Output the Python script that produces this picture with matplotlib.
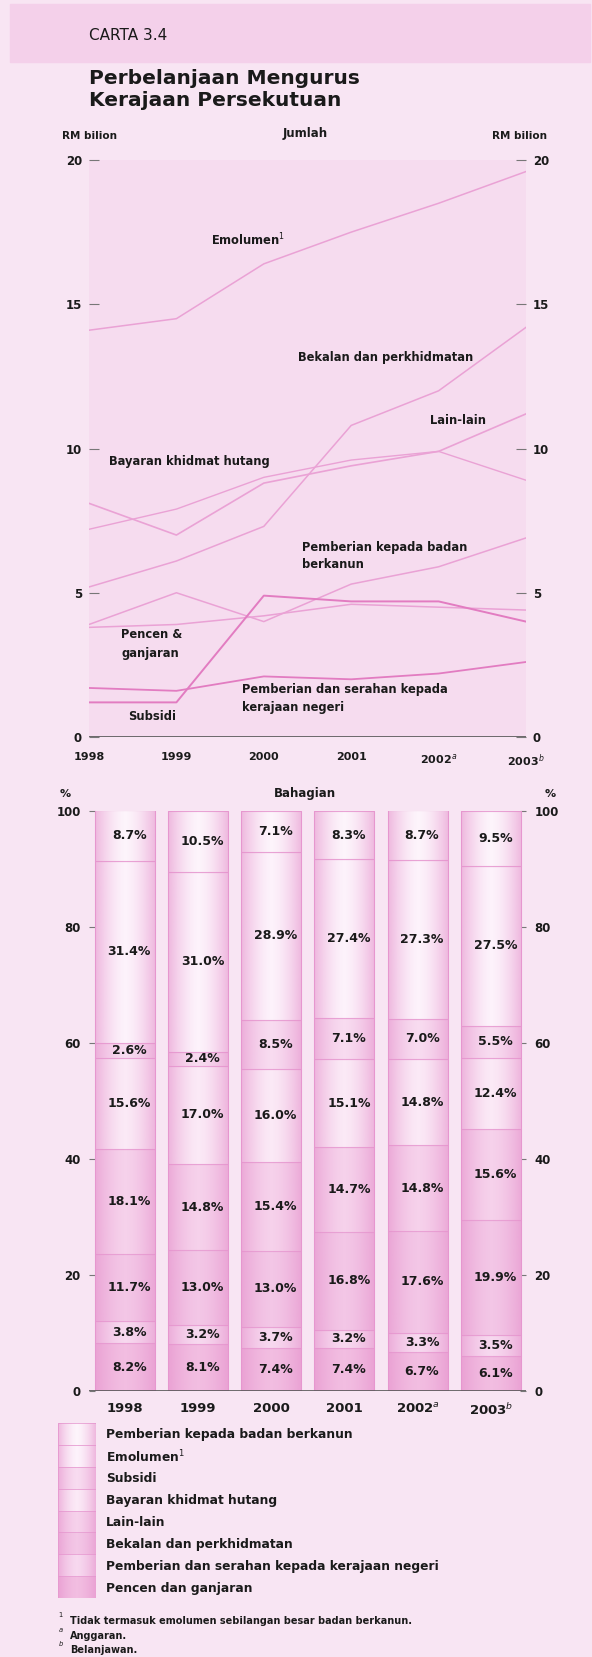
import numpy as np
import matplotlib
matplotlib.use('Agg')
import matplotlib.pyplot as plt
from matplotlib.patches import Rectangle
from matplotlib.colors import to_rgb

plt.rcParams['font.family'] = ['DejaVu Sans']

# ---------------- data ----------------
years = ['1998', '1999', '2000', '2001', '2002$^{a}$', '2003$^{b}$']

# Jumlah (RM bilion)
emolumen = [14.1, 14.5, 16.4, 17.5, 18.5, 19.6]
bekalan = [5.2, 6.1, 7.3, 10.8, 12.0, 14.2]
lain_lain = [8.1, 7.0, 8.8, 9.4, 9.9, 11.2]
bayaran_hutang = [7.2, 7.9, 9.0, 9.6, 9.9, 8.9]
badan_berkanun = [3.9, 5.0, 4.0, 5.3, 5.9, 6.9]
subsidi = [1.2, 1.2, 4.9, 4.7, 4.7, 4.0]
negeri = [1.7, 1.6, 2.1, 2.0, 2.2, 2.6]
pencen = [3.8, 3.9, 4.2, 4.6, 4.5, 4.4]

# Bahagian (%)  bottom -> top
pct_pencen = [8.2, 8.1, 7.4, 7.4, 6.7, 6.1]
pct_negeri = [3.8, 3.2, 3.7, 3.2, 3.3, 3.5]
pct_bekalan = [11.7, 13.0, 13.0, 16.8, 17.6, 19.9]
pct_lain = [18.1, 14.8, 15.4, 14.7, 14.8, 15.6]
pct_hutang = [15.6, 17.0, 16.0, 15.1, 14.8, 12.4]
pct_subsidi = [2.6, 2.4, 8.5, 7.1, 7.0, 5.5]
pct_emolumen = [31.4, 31.0, 28.9, 27.4, 27.3, 27.5]
pct_berkanun = [8.7, 10.5, 7.1, 8.3, 8.7, 9.5]

legend_labels = ['Pemberian kepada badan berkanun', 'Emolumen$^{1}$', 'Subsidi',
                 'Bayaran khidmat hutang', 'Lain-lain', 'Bekalan dan perkhidmatan',
                 'Pemberian dan serahan kepada kerajaan negeri', 'Pencen dan ganjaran']

# ---------------- style ----------------
BG = '#f8e5f3'
AXBG = '#f6dcef'
BAND = '#f4d0ea'
LINE = '#eaa2d5'
LINE2 = '#e27cc1'
EDGE = '#e9a3d5'
TXT = '#1a1a1a'
SEG_COLORS = ['#f2bde1', '#f7d8ef', '#f3c6e6', '#f6d1eb', '#fbe9f6',
              '#f8dbf0', '#fdf2fb', '#fdf4fb']

W, H = 592, 1657
fig = plt.figure(figsize=(W / 100, H / 100), dpi=100)
fig.patch.set_facecolor(BG)


def fx(x):
    return x / W


def fy(y):
    return 1 - y / H


def ftext(x, y, s, **kw):
    kw.setdefault('color', TXT)
    kw.setdefault('va', 'center')
    fig.text(fx(x), fy(y), s, **kw)


fig.patches.append(Rectangle((fx(10), fy(62)), fx(590) - fx(10), fy(4) - fy(62),
                             transform=fig.transFigure, color=BAND, zorder=0))

ftext(89, 35, 'CARTA 3.4', fontsize=11)
ftext(89, 78, 'Perbelanjaan Mengurus', fontsize=14.5, weight='bold')
ftext(89, 100, 'Kerajaan Persekutuan', fontsize=14.5, weight='bold')

ftext(62, 136, 'RM bilion', fontsize=7.5, weight='bold')
ftext(305, 134, 'Jumlah', fontsize=8.5, weight='bold', ha='center')
ftext(547, 136, 'RM bilion', fontsize=7.5, weight='bold', ha='right')

# ---------------- top chart ----------------
ax1 = fig.add_axes([fx(89), fy(737), (526 - 89) / W, (737 - 160) / H])
ax1.set_facecolor(AXBG)
x = np.arange(len(years))
for vals, col, lw in [(emolumen, LINE, 1.1), (bekalan, LINE, 1.1), (lain_lain, LINE, 1.2),
                      (bayaran_hutang, LINE, 1.0), (badan_berkanun, LINE, 1.1),
                      (pencen, LINE, 1.1), (negeri, LINE2, 1.3), (subsidi, LINE2, 1.4)]:
    ax1.plot(x, vals, color=col, lw=lw, zorder=3)
ax1.axhline(0, color='#555555', lw=1.2, zorder=4)
ax1.set_xlim(0, 5)
ax1.set_ylim(0, 20)
for s in ax1.spines.values():
    s.set_visible(False)
ax1.set_yticks([0, 5, 10, 15, 20])
ax1.tick_params(axis='y', direction='in', length=7, width=0.8, color='#777777',
                left=True, right=True, labelleft=True, labelright=True,
                labelsize=8.5, pad=5, labelcolor=TXT)
ax1.set_xticks(x)
ax1.set_xticklabels(years, fontsize=8, weight='bold', color=TXT)
ax1.tick_params(axis='x', length=0, pad=11)
for lab in ax1.get_yticklabels():
    lab.set_fontweight('bold')

ann = dict(fontsize=8.3, weight='bold')
ftext(211, 240, 'Emolumen$^{1}$', **ann)
ftext(298, 357, 'Bekalan dan perkhidmatan', **ann)
ftext(430, 420, 'Lain-lain', **ann)
ftext(109, 462, 'Bayaran khidmat hutang', **ann)
ftext(302, 547, 'Pemberian kepada badan', **ann)
ftext(302, 565, 'berkanun', **ann)
ftext(121, 635, 'Pencen &', **ann)
ftext(121, 653, 'ganjaran', **ann)
ftext(242, 690, 'Pemberian dan serahan kepada', **ann)
ftext(242, 707, 'kerajaan negeri', **ann)
ftext(128, 717, 'Subsidi', **ann)

# ---------------- bottom chart ----------------
ftext(305, 794, 'Bahagian', fontsize=8.5, weight='bold', ha='center')
ftext(60, 794, '%', fontsize=8, weight='bold')
ftext(556, 794, '%', fontsize=8, weight='bold', ha='right')

ax2 = fig.add_axes([fx(89), fy(1391), (526 - 89) / W, (1391 - 811) / H])
ax2.set_facecolor('none')
xb = np.arange(len(years))
bw = 0.82
stack = [pct_pencen, pct_negeri, pct_bekalan, pct_lain, pct_hutang,
         pct_subsidi, pct_emolumen, pct_berkanun]
bottom = np.zeros(len(years))
for vals, col in zip(stack, SEG_COLORS):
    vals = np.array(vals)
    ax2.bar(xb, vals, width=bw, bottom=bottom, color=col, edgecolor=EDGE,
            linewidth=0.8, zorder=2)
    for i in range(len(xb)):
        ax2.text(xb[i] + 0.06, bottom[i] + vals[i] / 2, f'{vals[i]:.1f}%',
                 ha='center', va='center', fontsize=9, weight='bold', color=TXT, zorder=6)
    bottom += vals

# cylinder-like shading on the bars
u = np.linspace(-1, 1, 80)
alpha = 0.6 * np.abs(u) ** 1.6
rgb = to_rgb('#e58fcb')
grad = np.zeros((1, len(u), 4))
grad[0, :, :3] = rgb
grad[0, :, 3] = alpha
for i in xb:
    ax2.imshow(grad, extent=(i - bw / 2, i + bw / 2, 0, bottom[i]), aspect='auto',
               zorder=3, interpolation='bilinear')

ax2.axhline(0, color='#555555', lw=1.2, zorder=5)
ax2.set_xlim(-0.49, 5.48)
ax2.set_ylim(0, 100)
for s in ax2.spines.values():
    s.set_visible(False)
ax2.set_yticks([0, 20, 40, 60, 80, 100])
ax2.tick_params(axis='y', direction='in', length=4, width=0.8, color='#777777',
                left=True, right=True, labelleft=True, labelright=True,
                labelsize=8.5, pad=6, labelcolor=TXT)
for lab in ax2.get_yticklabels():
    lab.set_fontweight('bold')
ax2.set_xticks(xb)
ax2.set_xticklabels(years, fontsize=9.5, weight='bold', color=TXT)
ax2.tick_params(axis='x', length=0, pad=8)

# ---------------- legend ----------------
axl = fig.add_axes([fx(58), fy(1598), (96 - 58) / W, (1598 - 1423) / H])
axl.set_axis_off()
n = len(legend_labels)
leg_cols = SEG_COLORS[::-1]
axl.bar(np.zeros(n), np.ones(n), width=1, bottom=np.arange(n)[::-1],
        color=leg_cols, edgecolor=EDGE, linewidth=0.6, zorder=2)
axl.imshow(grad, extent=(-0.5, 0.5, 0, n), aspect='auto', zorder=3,
           interpolation='bilinear')
axl.set_xlim(-0.5, 0.5)
axl.set_ylim(0, n)
row_h = (1598 - 1423) / n
for k, lab in enumerate(legend_labels):
    ftext(106, 1423 + row_h * (k + 0.5) + 1, lab, fontsize=8.8, weight='bold')

# ---------------- footnotes ----------------
ftext(58, 1617, '$^{1}$', fontsize=7)
ftext(70, 1621, 'Tidak termasuk emolumen sebilangan besar badan berkanun.', fontsize=7, weight='bold')
ftext(58, 1632, '$^{a}$', fontsize=7)
ftext(70, 1636, 'Anggaran.', fontsize=7, weight='bold')
ftext(58, 1646, '$^{b}$', fontsize=7)
ftext(70, 1650, 'Belanjawan.', fontsize=7, weight='bold')

fig.savefig('out.png', dpi=100, facecolor=BG)
